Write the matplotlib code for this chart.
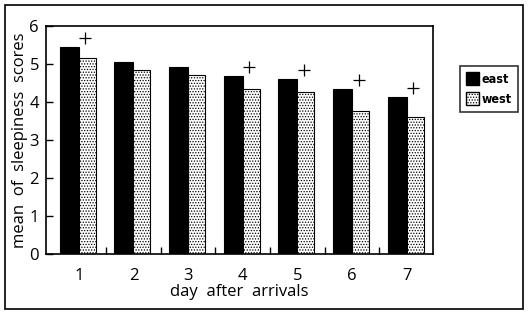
import matplotlib
matplotlib.use("Agg")
import matplotlib.pyplot as plt
import matplotlib.transforms as mtransforms
import numpy as np
from matplotlib.patches import Rectangle, Patch

days = [1, 2, 3, 4, 5, 6, 7]
east = [5.45, 5.05, 4.92, 4.68, 4.60, 4.34, 4.13]
west = [5.16, 4.84, 4.71, 4.34, 4.26, 3.76, 3.60]
plus_days = [1, 4, 5, 6, 7]

plt.rcParams["font.family"] = ["Open Sans", "DejaVu Sans"]
plt.rcParams["hatch.linewidth"] = 0.6

fig = plt.figure(figsize=(5.28, 3.13), dpi=100)
ax = fig.add_axes([46 / 528, 59 / 313, 387 / 528, 228 / 313])

x = np.array(days, dtype=float)
w = 0.35
ax.bar(x - w / 2, east, width=w, color="black", edgecolor="black", linewidth=0.8)
ax.bar(x + w / 2 - 0.02, west, width=w - 0.04, color="white", edgecolor="black",
       hatch="......", linewidth=0.8)

# "+" marks above the pairs that differ
shift = ax.transData + mtransforms.ScaledTranslation(0, 9 / 100, fig.dpi_scale_trans)
px = [d + 0.12 for d in plus_days]
py = [east[days.index(d)] for d in plus_days]
ax.plot(px, py, linestyle="none", marker="+", markersize=9, markeredgewidth=0.9,
        color="black", transform=shift, clip_on=False)

ax.set_xlim(0.4, 7.48)
ax.set_ylim(0, 6)
ax.set_yticks(range(0, 7))
ax.set_xticks(x)
ax.set_xticklabels([str(d) for d in days])
ax.set_xticks(x[:-1] + 0.5, minor=True)
ax.tick_params(axis="x", which="major", length=0, pad=10, labelsize=12)
ax.tick_params(axis="x", which="minor", direction="in", length=5, width=1)
ax.tick_params(axis="y", direction="in", length=5, width=1, pad=5, labelsize=12)
for s in ax.spines.values():
    s.set_linewidth(1.2)

ax.set_xlabel("day  after  arrivals", fontsize=12, labelpad=0)
ax.set_ylabel("mean  of  sleepiness  scores", fontsize=12, labelpad=1)

handles = [Patch(facecolor="black", edgecolor="black", label="east"),
           Patch(facecolor="white", edgecolor="black", hatch="......", label="west")]
leg = fig.legend(handles=handles, loc="center", bbox_to_anchor=(489 / 528, 1 - 89 / 313),
                 frameon=True, fancybox=False, edgecolor="black", handlelength=1.0,
                 handleheight=1.2, handletextpad=0.2, borderpad=0.5, labelspacing=0.5,
                 prop={"family": "DejaVu Sans", "stretch": "condensed",
                       "weight": "bold", "size": 9})
leg.get_frame().set_linewidth(1.2)

fig.patches.append(Rectangle((5 / 528, 4 / 313), 518 / 528, 304 / 313, fill=False,
                             edgecolor="black", linewidth=1.2, transform=fig.transFigure))

fig.savefig("out.png", dpi=100)
